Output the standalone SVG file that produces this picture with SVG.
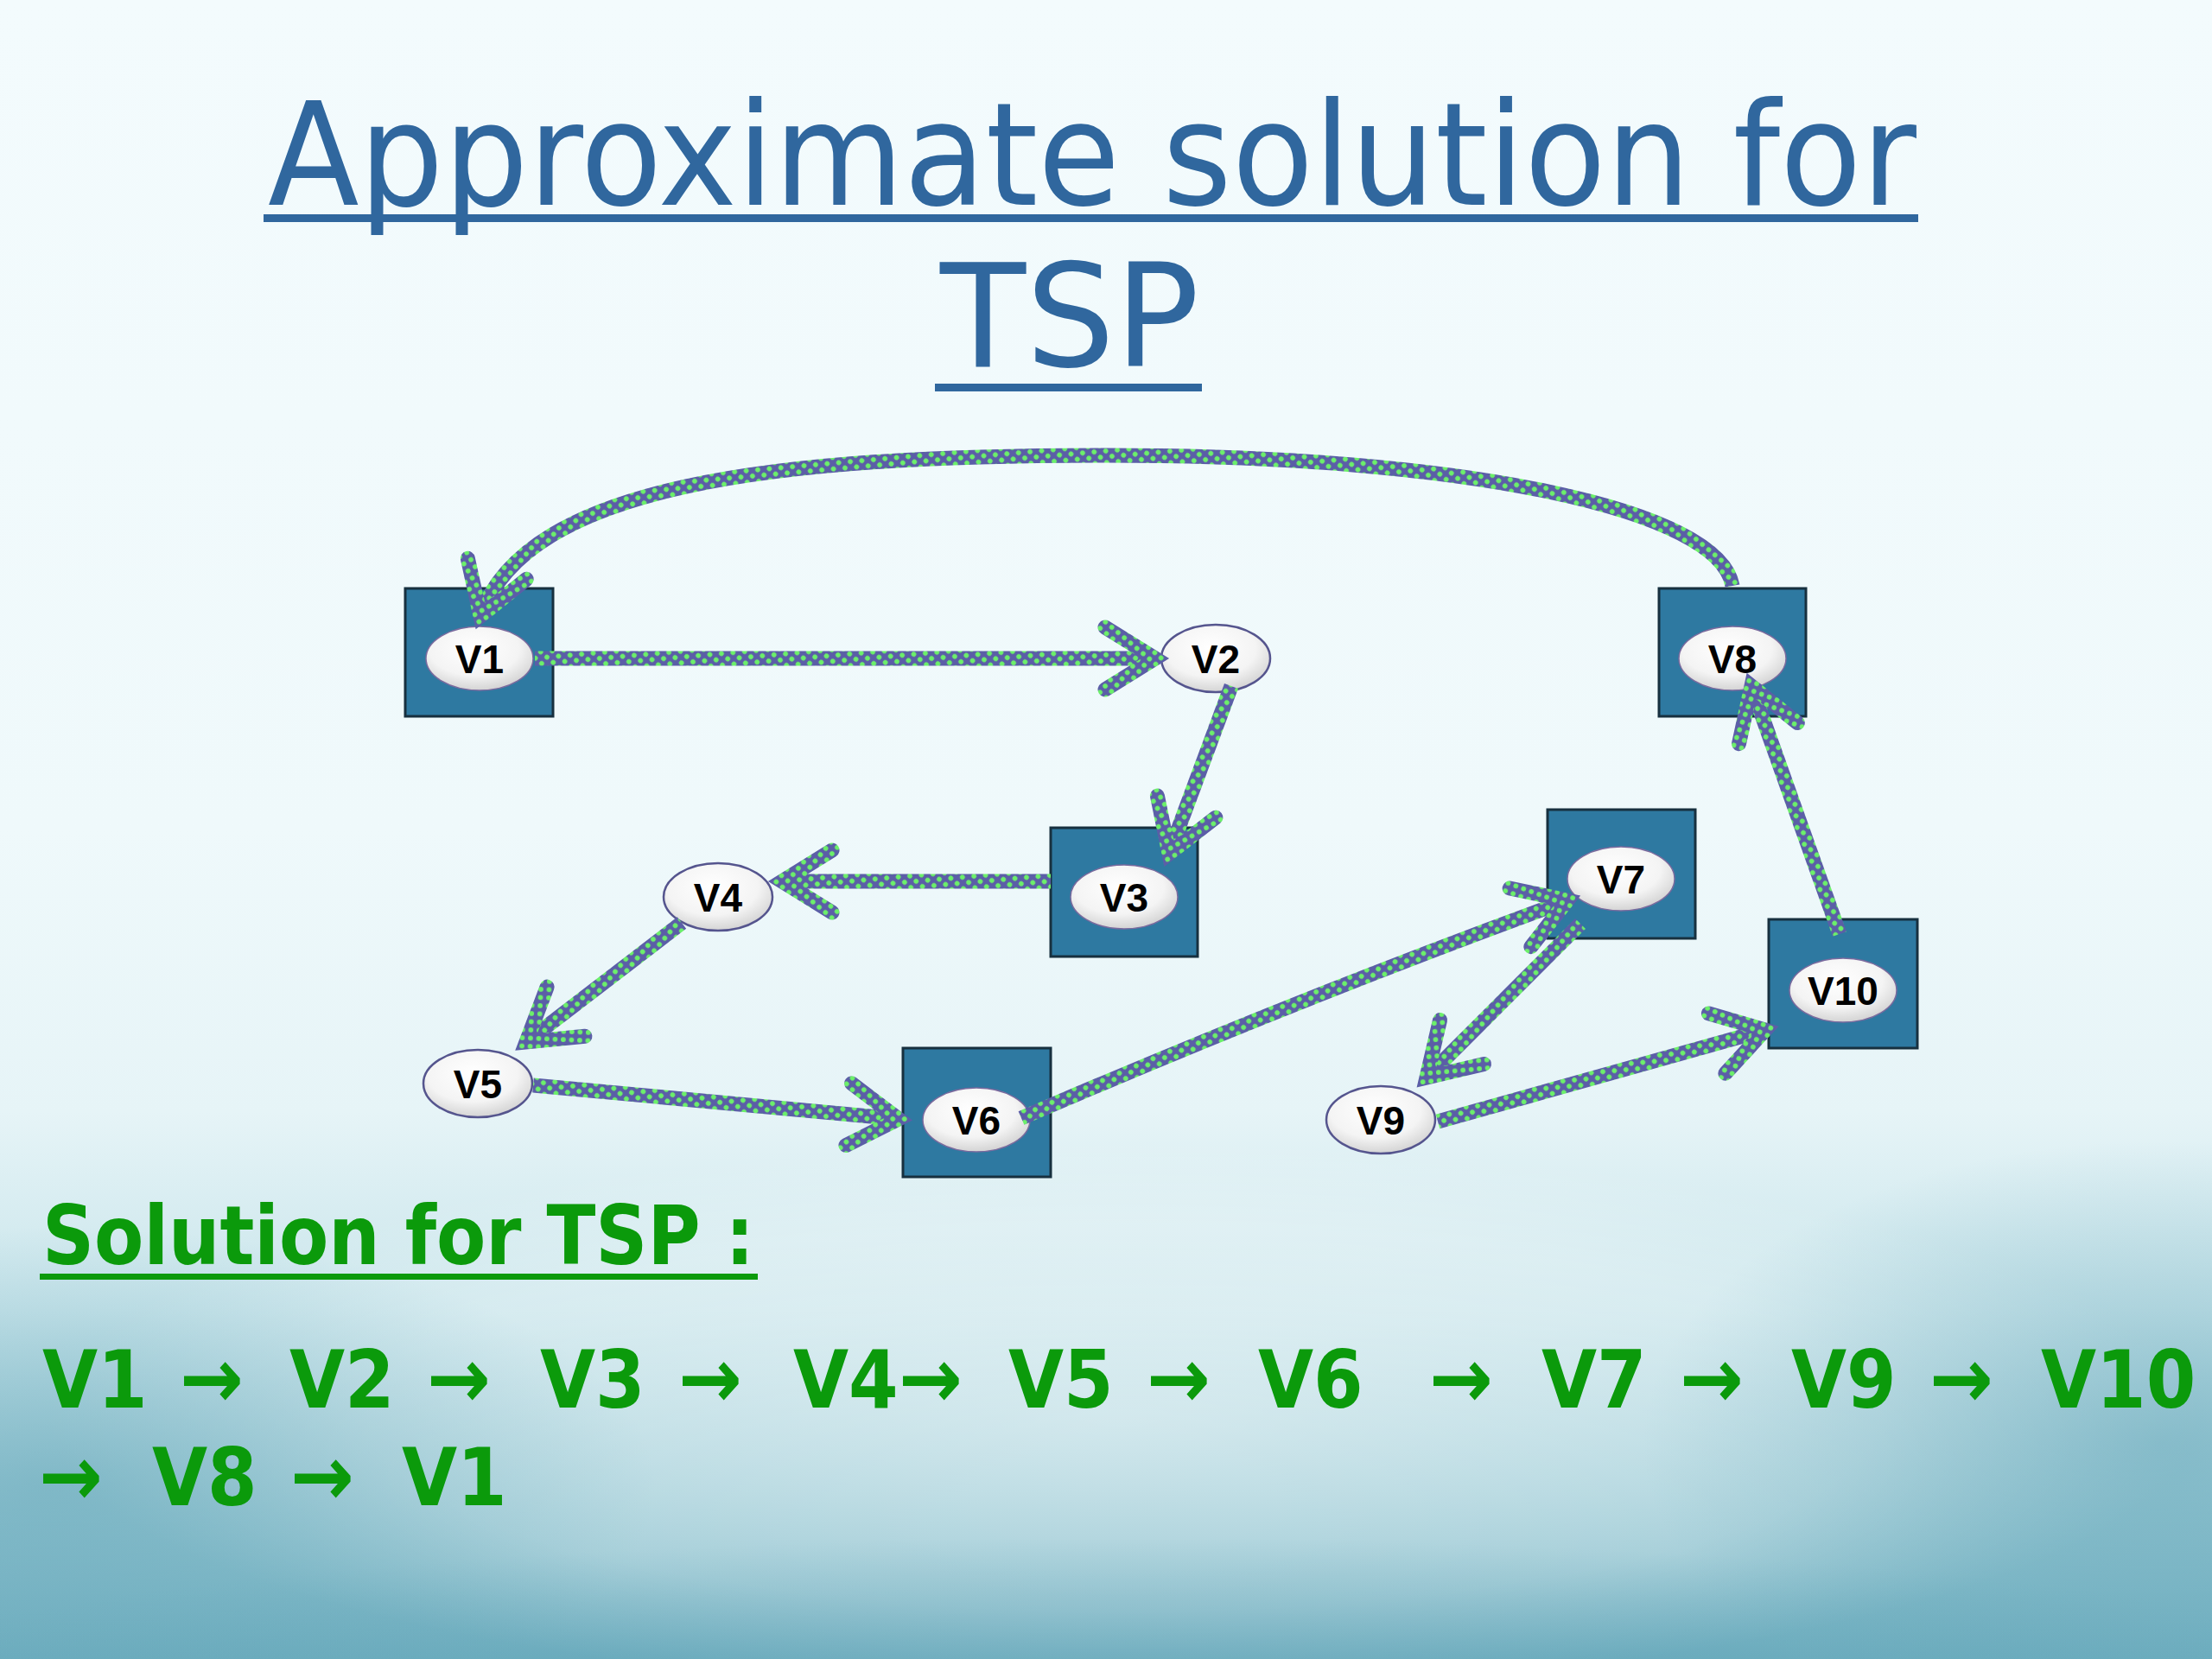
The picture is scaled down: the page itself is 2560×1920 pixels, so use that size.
<svg xmlns="http://www.w3.org/2000/svg" width="2560" height="1920" viewBox="0 0 2560 1920">
<defs>
  <linearGradient id="bg" x1="0" y1="0" x2="0" y2="1">
    <stop offset="0" stop-color="#f3fbfd"/>
    <stop offset="0.5" stop-color="#eff9fb"/>
    <stop offset="0.67" stop-color="#e6f4f7"/>
    <stop offset="0.79" stop-color="#c9e5eb"/>
    <stop offset="0.9" stop-color="#9ccbd6"/>
    <stop offset="1" stop-color="#70afc0"/>
  </linearGradient>
  <radialGradient id="glow" cx="0.5" cy="0.5" r="0.5">
    <stop offset="0" stop-color="#ffffff" stop-opacity="0.45"/>
    <stop offset="0.7" stop-color="#ffffff" stop-opacity="0.25"/>
    <stop offset="1" stop-color="#ffffff" stop-opacity="0"/>
  </radialGradient>
  <radialGradient id="dark" cx="0.5" cy="0.5" r="0.5">
    <stop offset="0" stop-color="#5a9fb3" stop-opacity="0.45"/>
    <stop offset="1" stop-color="#5a9fb3" stop-opacity="0"/>
  </radialGradient>
  <radialGradient id="ell" cx="0.45" cy="0.35" r="0.7">
    <stop offset="0" stop-color="#ffffff"/>
    <stop offset="0.6" stop-color="#f4f4f4"/>
    <stop offset="1" stop-color="#cdcdcd"/>
  </radialGradient>
  <pattern id="rope" width="9.5" height="9.5" patternUnits="userSpaceOnUse" patternTransform="rotate(40)">
    <rect width="9.5" height="9.5" fill="#5b5ea7"/>
    <circle cx="4.75" cy="4.75" r="2.9" fill="#6cf06a"/>
  </pattern>
  <marker id="chev" markerUnits="userSpaceOnUse" markerWidth="160" markerHeight="160" refX="0" refY="0" orient="auto" overflow="visible" viewBox="-80 -80 160 160">
    <path d="M-58,-36 L0,0 L-58,36" fill="none" stroke="url(#rope)" stroke-width="17" stroke-linejoin="miter" stroke-linecap="round"/>
  </marker>
  <style>
    .sq{fill:#2e79a1;stroke:#17303f;stroke-width:3}
    .el{fill:url(#ell);stroke:#7a6a9e;stroke-width:1.5}
    .elo{fill:url(#ell);stroke:#55558e;stroke-width:2.5}
    .lbl{font-family:"Liberation Sans",Arial,sans-serif;font-weight:bold;font-size:46px;fill:#000;text-anchor:middle}
    .edge{fill:none;stroke:url(#rope);stroke-width:17;marker-end:url(#chev)}
    .title{font-family:"DejaVu Sans",sans-serif;font-size:166px;fill:#30679e}
    .green{font-family:"DejaVu Sans Condensed","DejaVu Sans",sans-serif;font-weight:bold;fill:#0b9a0b}
    .arr{font-size:98px}
  </style>
</defs>

<rect width="2560" height="1920" fill="url(#bg)"/>
<ellipse cx="1300" cy="1640" rx="1250" ry="320" fill="url(#glow)"/>
<ellipse cx="60" cy="1720" rx="700" ry="300" fill="url(#dark)"/>
<ellipse cx="2500" cy="1670" rx="600" ry="350" fill="url(#dark)"/>
<ellipse cx="1300" cy="1960" rx="1500" ry="180" fill="url(#dark)"/>

<g id="title">
  <text class="title" x="310" y="237" textLength="1908" lengthAdjust="spacingAndGlyphs">Approximate solution for</text>
  <rect x="305" y="248" width="1915" height="9" fill="#30679e"/>
  <text class="title" x="1088" y="424" textLength="300" lengthAdjust="spacingAndGlyphs">TSP</text>
  <rect x="1082" y="444" width="309" height="9" fill="#30679e"/>
</g>

<g id="V1">
  <rect class="sq" x="469" y="681" width="171" height="148"/>
  <ellipse class="el" cx="555" cy="762" rx="62" ry="37"/>
  <text class="lbl" x="555" y="779">V1</text>
</g>
<g id="V2">
  <ellipse class="elo" cx="1407" cy="762" rx="63" ry="39"/>
  <text class="lbl" x="1407" y="779">V2</text>
</g>
<g id="V3">
  <rect class="sq" x="1216" y="958" width="170" height="149"/>
  <ellipse class="el" cx="1301" cy="1038" rx="62" ry="37"/>
  <text class="lbl" x="1301" y="1055">V3</text>
</g>
<g id="V4">
  <ellipse class="elo" cx="831" cy="1038" rx="63" ry="39"/>
  <text class="lbl" x="831" y="1055">V4</text>
</g>
<g id="V5">
  <ellipse class="elo" cx="553" cy="1254" rx="63" ry="39"/>
  <text class="lbl" x="553" y="1271">V5</text>
</g>
<g id="V6">
  <rect class="sq" x="1045" y="1213" width="171" height="149"/>
  <ellipse class="el" cx="1130" cy="1296" rx="62" ry="37"/>
  <text class="lbl" x="1130" y="1313">V6</text>
</g>
<g id="V7">
  <rect class="sq" x="1791" y="937" width="171" height="149"/>
  <ellipse class="el" cx="1876" cy="1017" rx="62" ry="37"/>
  <text class="lbl" x="1876" y="1034">V7</text>
</g>
<g id="V8">
  <rect class="sq" x="1920" y="681" width="170" height="148"/>
  <ellipse class="el" cx="2005" cy="762" rx="62" ry="37"/>
  <text class="lbl" x="2005" y="779">V8</text>
</g>
<g id="V9">
  <ellipse class="elo" cx="1598" cy="1296" rx="63" ry="39"/>
  <text class="lbl" x="1598" y="1313">V9</text>
</g>
<g id="V10">
  <rect class="sq" x="2047" y="1064" width="172" height="149"/>
  <ellipse class="el" cx="2133" cy="1146" rx="62" ry="37"/>
  <text class="lbl" x="2133" y="1163">V10</text>
</g>

<g id="connectors">
  <path class="edge" d="M619,762 L1337,762"/>
  <path class="edge" d="M1425,794 L1353,988"/>
  <path class="edge" d="M1216,1020 L905,1020"/>
  <path class="edge" d="M789,1068 L609,1206"/>
  <path class="edge" d="M617,1256 L1040,1295"/>
  <path class="edge" d="M1182,1294 C1400,1200 1600,1120 1814,1042"/>
  <path class="edge" d="M1829,1069 L1651,1247"/>
  <path class="edge" d="M1664,1298 L2043,1192"/>
  <path class="edge" d="M2129,1081 L2027,794"/>
  <path class="edge" d="M2005,678 C1990,590 1700,527 1280,527 C900,527 610,560 556,713"/>
</g>

<g id="solution">
  <text class="green" x="49" y="1463" font-size="94" textLength="824" lengthAdjust="spacingAndGlyphs">Solution for TSP :</text>
  <rect x="46" y="1474" width="831" height="7" fill="#0b9a0b"/>
  <text class="green" y="1629" font-size="92" xml:space="preserve"><tspan x="49">V1</tspan> <tspan class="arr" x="208">→</tspan> <tspan x="335">V2</tspan> <tspan class="arr" x="494">→</tspan> <tspan x="625">V3</tspan> <tspan class="arr" x="785">→</tspan> <tspan x="918">V4</tspan><tspan class="arr" x="1040">→</tspan> <tspan x="1167">V5</tspan> <tspan class="arr" x="1327">→</tspan> <tspan x="1456">V6</tspan>  <tspan class="arr" x="1654">→</tspan> <tspan x="1784">V7</tspan> <tspan class="arr" x="1944">→</tspan> <tspan x="2073">V9</tspan> <tspan class="arr" x="2233">→</tspan> <tspan x="2362">V10</tspan></text>
  <text class="green" y="1742" font-size="92" xml:space="preserve"><tspan class="arr" x="45">→</tspan> <tspan x="176">V8</tspan> <tspan class="arr" x="336">→</tspan> <tspan x="465">V1</tspan></text>
</g>
</svg>
